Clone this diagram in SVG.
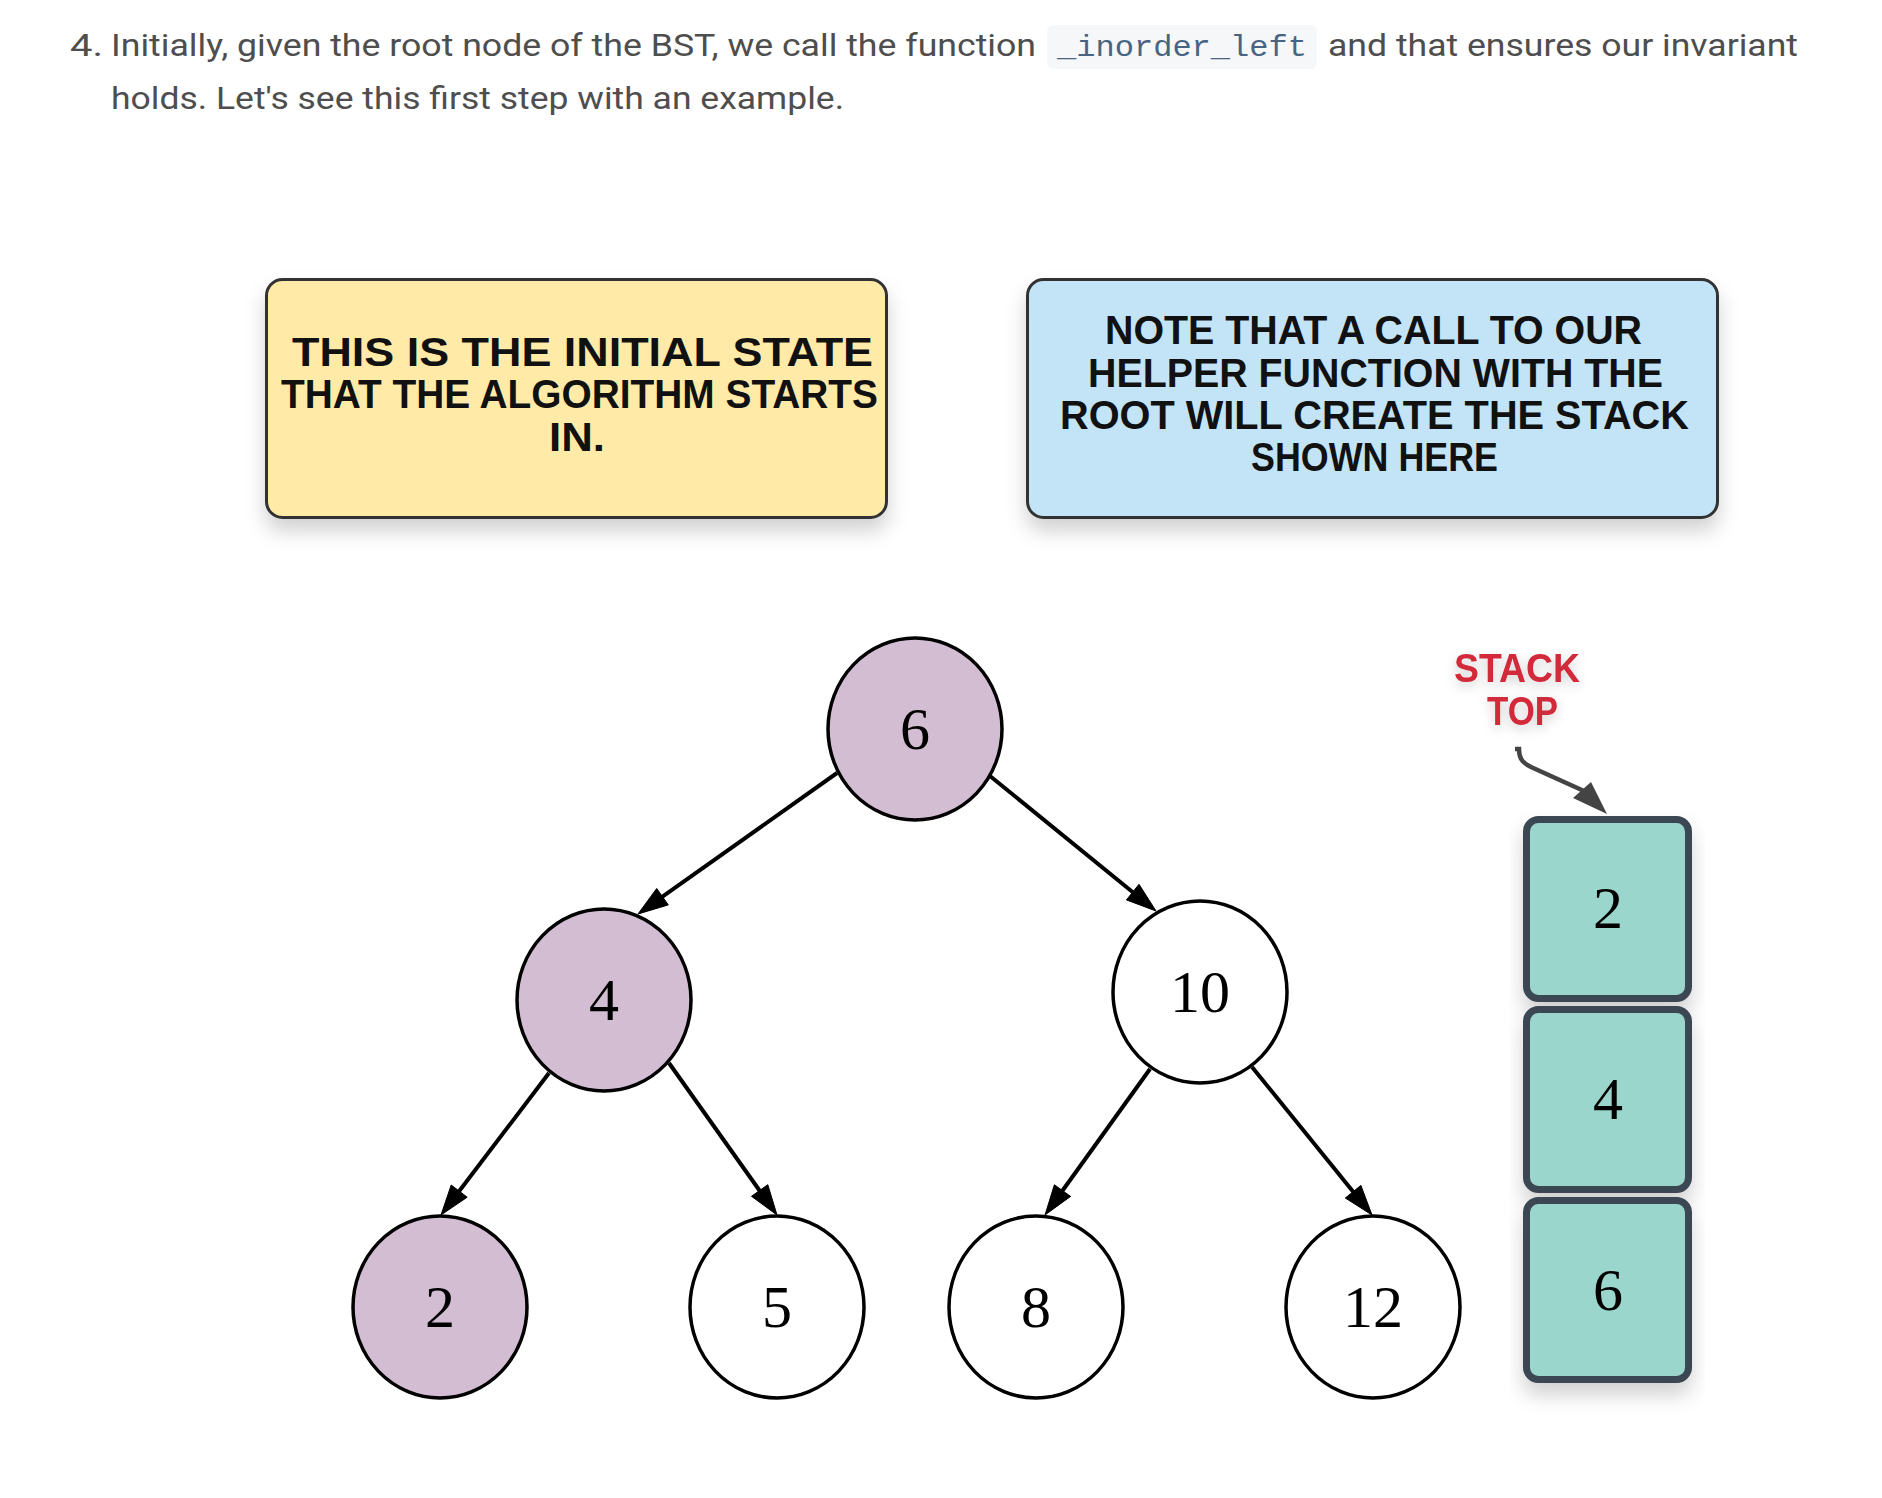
<svg xmlns="http://www.w3.org/2000/svg" width="1882" height="1498" viewBox="0 0 1882 1498">
<defs>
<style>
.para{font-family:Roboto,"Liberation Sans",sans-serif;font-size:32px;fill:#4e4e4e}
.code{font-family:"Liberation Mono","DejaVu Sans Mono",monospace;font-size:30px;fill:#476582}
.comic{font-family:"Liberation Sans","DejaVu Sans",sans-serif;font-weight:bold;font-size:41px;fill:#111}
.red{font-family:"Liberation Sans","DejaVu Sans",sans-serif;font-weight:bold;font-size:41px;fill:#d22a3b}
.num{font-family:"Liberation Serif","DejaVu Serif",serif;font-size:60px;fill:#000;text-anchor:middle}
.node{stroke:#000;stroke-width:3.5}
.hl{fill:#d3bdd2}
.plain{fill:#fff}
.edge{stroke:#000;stroke-width:4;fill:none}
.head{fill:#000;stroke:#000;stroke-width:1}
.stk{fill:#9bd6cc;stroke:#3b4652;stroke-width:7}
.callout{stroke:#333;stroke-width:3}
</style>
<filter id="shadow" x="-10%" y="-10%" width="120%" height="140%">
<feDropShadow dx="0" dy="12" stdDeviation="10" flood-color="#000" flood-opacity="0.18"/>
</filter>
<filter id="glow" x="-20%" y="-20%" width="140%" height="160%">
<feDropShadow dx="0" dy="4" stdDeviation="6" flood-color="#000" flood-opacity="0.2"/>
</filter>
</defs>
<rect width="1882" height="1498" fill="#fff"/>

<g id="paragraph">
<text class="para" x="70" y="56" textLength="33" lengthAdjust="spacingAndGlyphs">4.</text>
<text class="para" x="111" y="56" textLength="925" lengthAdjust="spacingAndGlyphs">Initially, given the root node of the BST, we call the function</text>
<rect x="1047" y="25" width="270" height="44" rx="7" fill="#f5f7f9"/>
<text class="code" x="1057" y="56" textLength="250" lengthAdjust="spacingAndGlyphs">_inorder_left</text>
<text class="para" x="1328" y="56" textLength="470" lengthAdjust="spacingAndGlyphs">and that ensures our invariant</text>
<text class="para" x="111" y="109" textLength="733" lengthAdjust="spacingAndGlyphs">holds. Let's see this first step with an example.</text>
</g>

<g id="note-initial">
<rect class="callout" x="266.5" y="279.5" width="620" height="238" rx="16" fill="#ffeba7" filter="url(#shadow)"/>
<text class="comic" x="292" y="366" textLength="581" lengthAdjust="spacingAndGlyphs">THIS IS THE INITIAL STATE</text>
<text class="comic" x="281" y="408" textLength="597" lengthAdjust="spacingAndGlyphs">THAT THE ALGORITHM STARTS</text>
<text class="comic" x="549" y="451" textLength="56" lengthAdjust="spacingAndGlyphs">IN.</text>
</g>

<g id="note-stack">
<rect class="callout" x="1027.5" y="279.5" width="690" height="238" rx="16" fill="#c3e4f7" filter="url(#shadow)"/>
<text class="comic" x="1105" y="344" textLength="537" lengthAdjust="spacingAndGlyphs">NOTE THAT A CALL TO OUR</text>
<text class="comic" x="1088" y="387" textLength="575" lengthAdjust="spacingAndGlyphs">HELPER FUNCTION WITH THE</text>
<text class="comic" x="1060" y="429" textLength="629" lengthAdjust="spacingAndGlyphs">ROOT WILL CREATE THE STACK</text>
<text class="comic" x="1251" y="471" textLength="247" lengthAdjust="spacingAndGlyphs">SHOWN HERE</text>
</g>

<g id="connectors">
<line class="edge" x1="837" y1="773" x2="660" y2="898.4"/>
<polygon class="head" points="638,914 668.3,904.9 656.7,888.5"/>
<line class="edge" x1="990" y1="776" x2="1135" y2="894"/>
<polygon class="head" points="1156,911 1139,884.3 1126.4,899.9"/>
<line class="edge" x1="549" y1="1073" x2="457.4" y2="1193.5"/>
<polygon class="head" points="441,1215 467.2,1197.2 451.2,1185"/>
<line class="edge" x1="669" y1="1063" x2="761.3" y2="1193"/>
<polygon class="head" points="777,1215 767.8,1184.7 751.5,1196.3"/>
<line class="edge" x1="1150" y1="1069" x2="1060.8" y2="1193"/>
<polygon class="head" points="1045,1215 1070.6,1196.4 1054.4,1184.8"/>
<line class="edge" x1="1252" y1="1067" x2="1355" y2="1194"/>
<polygon class="head" points="1372,1215 1360.9,1185.4 1345.3,1198"/>
<path d="M1515,749 L1519,749 C1519,757 1521,762 1531,767 L1584,791" fill="none" stroke="#444" stroke-width="4.5"/>
<polygon points="1607,814 1573,798 1591,782" fill="#444"/>
</g>

<g id="node-6"><ellipse class="node hl" cx="915" cy="729" rx="87" ry="91"/><text class="num" x="915" y="749">6</text></g>
<g id="node-4"><ellipse class="node hl" cx="604" cy="1000" rx="87" ry="91"/><text class="num" x="604" y="1020">4</text></g>
<g id="node-10"><ellipse class="node plain" cx="1200" cy="992" rx="87" ry="91"/><text class="num" x="1200" y="1012">10</text></g>
<g id="node-2"><ellipse class="node hl" cx="440" cy="1307" rx="87" ry="91"/><text class="num" x="440" y="1327">2</text></g>
<g id="node-5"><ellipse class="node plain" cx="777" cy="1307" rx="87" ry="91"/><text class="num" x="777" y="1327">5</text></g>
<g id="node-8"><ellipse class="node plain" cx="1036" cy="1307" rx="87" ry="91"/><text class="num" x="1036" y="1327">8</text></g>
<g id="node-12"><ellipse class="node plain" cx="1373" cy="1307" rx="87" ry="91"/><text class="num" x="1373" y="1327">12</text></g>

<g id="stack-top-label" filter="url(#glow)">
<text class="red" x="1454" y="682" textLength="126" lengthAdjust="spacingAndGlyphs">STACK</text>
<text class="red" x="1487" y="725" textLength="71" lengthAdjust="spacingAndGlyphs">TOP</text>
</g>

<g id="stack-2"><rect class="stk" x="1526.5" y="819.5" width="162" height="179" rx="12" filter="url(#shadow)"/><text class="num" x="1608" y="928" font-size="58">2</text></g>
<g id="stack-4"><rect class="stk" x="1526.5" y="1009.5" width="162" height="180" rx="12" filter="url(#shadow)"/><text class="num" x="1608" y="1119" font-size="58">4</text></g>
<g id="stack-6"><rect class="stk" x="1526.5" y="1200.5" width="162" height="179" rx="12" filter="url(#shadow)"/><text class="num" x="1608" y="1310" font-size="58">6</text></g>
</svg>
